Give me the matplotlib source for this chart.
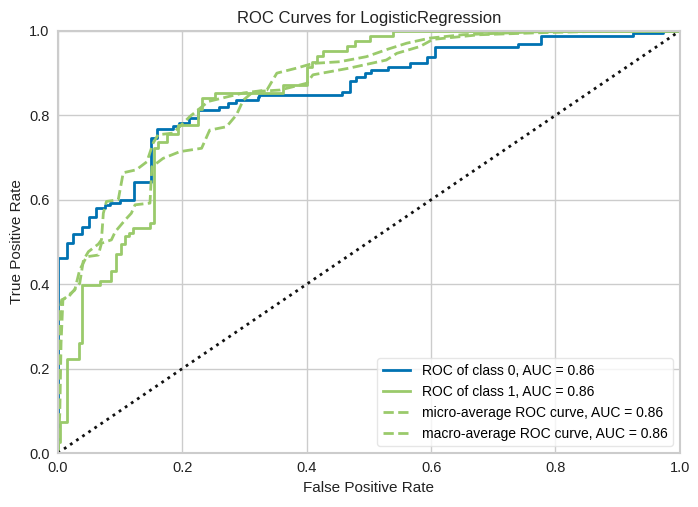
import matplotlib
matplotlib.use("Agg")
import matplotlib.pyplot as plt

# ---- data ----
fpr_c0 = [0.0, 0.0, 0.014, 0.014, 0.025, 0.025, 0.038, 0.038, 0.050, 0.050, 0.062, 0.062,
          0.076, 0.076, 0.084, 0.084, 0.100, 0.100, 0.123, 0.123, 0.150, 0.150, 0.160, 0.160,
          0.185, 0.185, 0.195, 0.195, 0.211, 0.211, 0.226, 0.226, 0.259, 0.259, 0.273, 0.273,
          0.287, 0.287, 0.321, 0.321, 0.324, 0.324, 0.456, 0.456, 0.469, 0.469, 0.480, 0.480,
          0.494, 0.494, 0.504, 0.504, 0.531, 0.531, 0.566, 0.566, 0.593, 0.593, 0.606, 0.606,
          0.740, 0.740, 0.776, 0.776, 0.925, 0.925, 0.973, 0.973, 1.0]
tpr_c0 = [0.0, 0.461, 0.461, 0.498, 0.498, 0.519, 0.519, 0.535, 0.535, 0.558, 0.558, 0.580,
          0.580, 0.588, 0.588, 0.593, 0.593, 0.600, 0.600, 0.641, 0.641, 0.746, 0.746, 0.767,
          0.767, 0.775, 0.775, 0.781, 0.781, 0.793, 0.793, 0.813, 0.813, 0.819, 0.819, 0.830,
          0.830, 0.836, 0.836, 0.843, 0.843, 0.848, 0.848, 0.856, 0.856, 0.882, 0.882, 0.892,
          0.892, 0.901, 0.901, 0.908, 0.908, 0.915, 0.915, 0.923, 0.923, 0.938, 0.938, 0.963,
          0.963, 0.969, 0.969, 0.989, 0.989, 0.994, 0.994, 1.0, 1.0]

fpr_c1 = [0.0, 0.0, 0.004, 0.004, 0.014, 0.014, 0.034, 0.034, 0.039, 0.039, 0.068, 0.068,
          0.086, 0.086, 0.094, 0.094, 0.101, 0.101, 0.108, 0.108, 0.114, 0.114, 0.121, 0.121,
          0.148, 0.148, 0.154, 0.154, 0.161, 0.161, 0.175, 0.175, 0.193, 0.193, 0.225, 0.225,
          0.232, 0.232, 0.252, 0.252, 0.362, 0.362, 0.400, 0.400, 0.408, 0.408, 0.416, 0.416,
          0.426, 0.426, 0.464, 0.464, 0.477, 0.477, 0.502, 0.502, 0.538, 0.538, 1.0]
tpr_c1 = [0.0, 0.027, 0.027, 0.074, 0.074, 0.222, 0.222, 0.260, 0.260, 0.398, 0.398, 0.408,
          0.408, 0.432, 0.432, 0.472, 0.472, 0.495, 0.495, 0.513, 0.513, 0.522, 0.522, 0.532,
          0.532, 0.544, 0.544, 0.722, 0.722, 0.738, 0.738, 0.755, 0.755, 0.777, 0.777, 0.814,
          0.814, 0.840, 0.840, 0.854, 0.854, 0.872, 0.872, 0.915, 0.915, 0.927, 0.927, 0.941,
          0.941, 0.953, 0.953, 0.964, 0.964, 0.977, 0.977, 0.988, 0.988, 1.0, 1.0]

fpr_micro = [0.0, 0.002, 0.003, 0.006, 0.017, 0.035, 0.041, 0.049, 0.065, 0.070, 0.073, 0.078,
             0.097, 0.105, 0.126, 0.143, 0.153, 0.161, 0.185, 0.212, 0.242, 0.298, 0.336,
             0.352, 0.384, 0.410, 0.453, 0.496, 0.531, 0.561, 0.598, 0.651, 0.770, 1.0]
tpr_micro = [0.0, 0.256, 0.330, 0.363, 0.370, 0.402, 0.457, 0.477, 0.495, 0.505, 0.568, 0.596,
             0.600, 0.664, 0.671, 0.690, 0.734, 0.754, 0.758, 0.797, 0.833, 0.853, 0.860,
             0.900, 0.912, 0.923, 0.927, 0.939, 0.957, 0.971, 0.983, 0.991, 0.998, 1.0]

fpr_macro = [0.0, 0.003, 0.005, 0.008, 0.027, 0.035, 0.046, 0.065, 0.070, 0.086, 0.092, 0.108,
             0.118, 0.124, 0.148, 0.151, 0.169, 0.196, 0.231, 0.244, 0.271, 0.287, 0.298,
             0.314, 0.357, 0.400, 0.410, 0.469, 0.528, 0.545, 0.582, 0.603, 0.678, 0.780,
             0.900, 1.0]
tpr_macro = [0.0, 0.094, 0.260, 0.363, 0.386, 0.434, 0.465, 0.469, 0.497, 0.505, 0.524, 0.552,
             0.568, 0.588, 0.592, 0.678, 0.698, 0.714, 0.722, 0.765, 0.773, 0.801, 0.836,
             0.856, 0.860, 0.876, 0.896, 0.912, 0.931, 0.947, 0.963, 0.980, 0.991, 0.996,
             1.0, 1.0]

labels = ["ROC of class 0, AUC = 0.86", "ROC of class 1, AUC = 0.86",
          "micro-average ROC curve, AUC = 0.86", "macro-average ROC curve, AUC = 0.86"]

blue = "#0072B2"
green = "#9ACA6B"

plt.rcParams["font.family"] = ["Liberation Sans", "DejaVu Sans"]

fig = plt.figure(figsize=(6.98, 5.07), dpi=100)
ax = fig.add_axes([0.083, 0.1065, 0.891, 0.8325])

ax.plot(fpr_c0, tpr_c0, color=blue, lw=2, label=labels[0])
ax.plot(fpr_c1, tpr_c1, color=green, lw=2, label=labels[1])
ax.plot(fpr_micro, tpr_micro, color=green, lw=2, ls="--", label=labels[2])
ax.plot(fpr_macro, tpr_macro, color=green, lw=2, ls="--", label=labels[3])
ax.plot([0, 1], [0, 1], color="#111111", lw=2, ls=":")

ax.set_xlim(0, 1)
ax.set_ylim(0, 1)
ax.set_xticks([0, 0.2, 0.4, 0.6, 0.8, 1.0])
ax.set_yticks([0, 0.2, 0.4, 0.6, 0.8, 1.0])
ax.grid(True, color="#cccccc", lw=1)
ax.set_axisbelow(True)
for s in ax.spines.values():
    s.set_color("#cccccc")
    s.set_linewidth(1.5)
ax.tick_params(length=0, labelsize=10.5, colors="#222222", pad=6)

ax.set_title("ROC Curves for LogisticRegression", fontsize=12, color="#222222")
ax.set_xlabel("False Positive Rate", fontsize=11, color="#222222")
ax.set_ylabel("True Positive Rate", fontsize=11, color="#222222")

leg = ax.legend(loc="lower right", fontsize=10, frameon=True, fancybox=True,
                framealpha=0.8, edgecolor="#e0e0e0")

fig.savefig("out.png", dpi=100)
